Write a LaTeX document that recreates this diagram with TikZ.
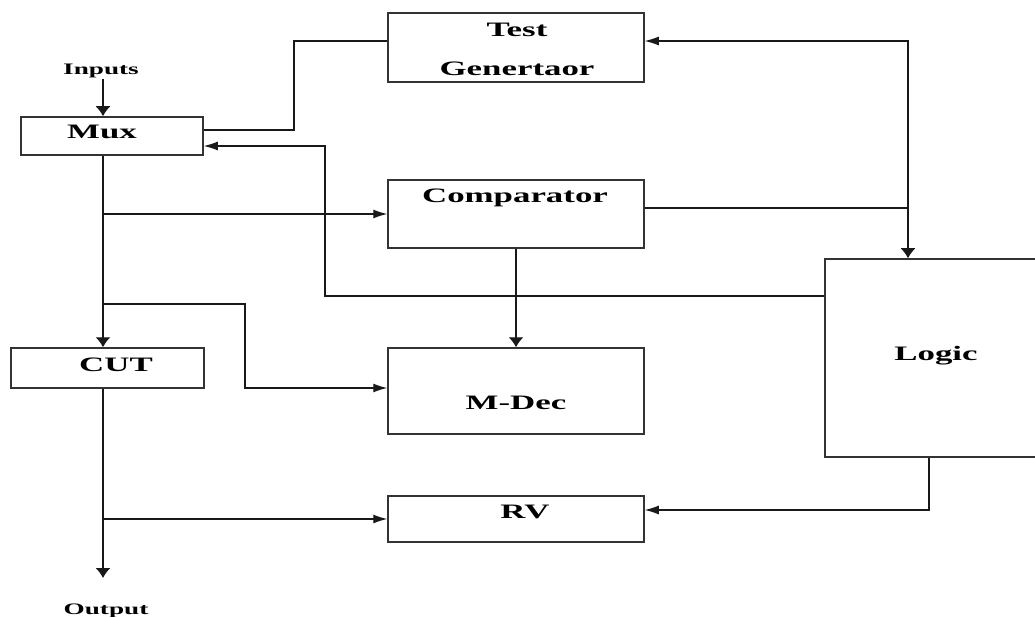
\documentclass[tikz,border=0pt]{standalone}
\usepackage{fontspec}
\newfontfamily\blockfont[FakeStretch=1.7]{Liberation Serif}
\usetikzlibrary{arrows.meta}
\tikzset{
  block/.style={draw=black!80, line width=1.5pt, inner sep=0pt},
  lbl/.style={font=\blockfont\bfseries\fontsize{20.5}{24}\selectfont, anchor=base, inner sep=0pt},
  io/.style={font=\blockfont\bfseries\fontsize{16}{19}\selectfont, anchor=base, inner sep=0pt},
  wire/.style={line width=1.2pt, draw=black!90},
  hto/.style={wire, -{Latex[length=14pt,width=9pt]}},  % arrow into a box side
  vto/.style={wire, -{Latex[length=10pt,width=15pt]}}  % arrow into a box top
}

\begin{document}
\begin{tikzpicture}[x=1pt,y=-1pt]
    \useasboundingbox (0,0) rectangle (1035,617);
    \clip (0,0) rectangle (1035,617);

    % Blocks
    \node[block, minimum width=256pt, minimum height=69pt] (tg) at (516,47.5) {};     % test generator
    \node[block, minimum width=182pt, minimum height=38pt] (mux) at (112,136) {};
    \node[block, minimum width=256pt, minimum height=68pt] (cmp) at (516,214) {};
    \node[block, minimum width=225pt, minimum height=198pt] (logic) at (937.5,358) {};
    \node[block, minimum width=193pt, minimum height=40pt] (cut) at (107.5,368) {};
    \node[block, minimum width=256pt, minimum height=86pt] (mdec) at (516,391) {};
    \node[block, minimum width=256pt, minimum height=46pt] (rv) at (516,519) {};

    % Block labels
    \node[lbl] (tgtop) at (517,37) {Test};
    \node[lbl] (tgbot) at (517,76) {Genertaor};
    \node[lbl] (muxtxt) at (102,139) {Mux};
    \node[lbl] (cmptxt) at (515,203) {Comparator};
    \node[lbl] (logictxt) at (936,360) {Logic};
    \node[lbl] (cuttxt) at (116,371) {CUT};
    \node[lbl] (mdectxt) at (516,409) {M-Dec};
    \node[lbl] (rvtxt) at (525,518) {RV};

    % Inputs and output
    \node[io] (inputs) at (101,75) {Inputs};
    \node[io] (output) at (106,614) {Output};
    \coordinate (bus) at (103,0);
    \coordinate (outend) at (103,578);

    % Main path down the left side
    \draw[vto] (inputs.south -| bus) -- (bus |- mux.north);
    \draw[vto] (bus |- mux.south) -- (bus |- cut.north);
    \draw[vto] (bus |- cut.south) -- (outend);

    % Taps off the main path
    \draw[hto] (bus |- cmp.west) -- (cmp.west);
    \draw[hto] (bus |- 0,304) -| (245,388) -- (mdec.west |- 0,388);
    \draw[hto] (bus |- rv.west) -- (rv.west);

    % Test generator into the mux
    \draw[wire] (mux.east |- 0,130) -| (294,41) -- (tg.west |- 0,41);

    % Logic to test generator, comparator into logic
    \draw[wire, {Latex[length=14pt,width=9pt]}-{Latex[length=10pt,width=15pt]}] (tg.east |- 0,41) -| (logic.north -| 908,0);
    \draw[wire] (cmp.east |- 0,208) -- (908,208);

    % Logic back to the mux select
    \draw[hto] (logic.west |- 0,296) -| (325,146) -- (mux.east |- 0,146);

    % Comparator to decoder, logic to RV
    \draw[vto] (cmp.south) -- (mdec.north);
    \draw[hto] (logic.south -| 929,0) |- (rv.east |- 0,510);

\end{tikzpicture}
\end{document}
